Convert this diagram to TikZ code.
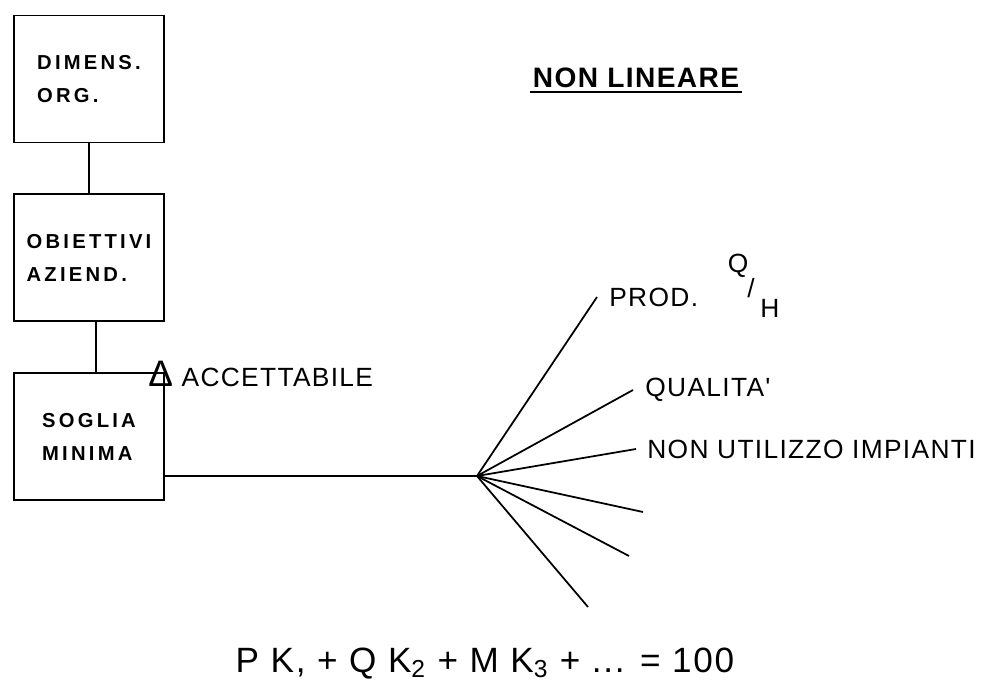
\documentclass[tikz,border=0pt]{standalone}
\usepackage{fontspec}
\setmainfont{Liberation Sans}
\newfontfamily\plotfont[LetterSpace=5]{Liberation Sans}
\newfontfamily\boxfont[LetterSpace=16]{Liberation Sans}
\usetikzlibrary{positioning}

\begin{document}
\begin{tikzpicture}[x=0.02cm,y=-0.02cm,
      box/.style={draw,line width=1.1pt,align=left,minimum width=3cm,minimum height=2.54cm,font=\boxfont\bfseries\fontsize{11.5}{18.8}\selectfont},
      lab/.style={inner sep=0pt,font=\plotfont\fontsize{15}{18}\selectfont},
      ray/.style={line width=1pt}
]
\useasboundingbox (0,0) rectangle (1002,690);
\node[box] (dim) at (89,79) {DIMENS.\\ORG.};
\node[box,below=1cm of dim] (obj) {OBIETTIVI\\AZIEND.};
\node[box,below=1cm of obj] (sog) {SOGLIA\\MINIMA};
\draw[line width=1pt] (dim) -- (obj);
\draw[line width=1pt] ([xshift=0.14cm]obj.south) -- ([xshift=0.14cm]sog.north);
\node[lab,anchor=west] (acc) at (148,374) {{\fontsize{21}{21}\selectfont Δ} ACCETTABILE};
% title
\node[inner sep=0pt,font=\plotfont\bfseries\fontsize{16}{19}\selectfont] (title) at (636,78) {NON LINEARE};
\draw[line width=1.2pt] ([xshift=-0.04cm,yshift=-0.08cm]title.south west) -- ([xshift=0.04cm,yshift=-0.08cm]title.south east);
% fan
\coordinate (hub) at (477,476);
\coordinate (e1) at (597,297);
\coordinate (e2) at (633,390);
\coordinate (e3) at (636,449);
\coordinate (e4) at (643,512);
\coordinate (e5) at (629,556);
\coordinate (e6) at (588,607);
\draw[ray] (sog.east |- hub) -- (hub);
\foreach \e in {e1,e2,e3,e4,e5,e6}
  \draw[ray] (hub) -- (\e);
\node[lab,right=0.24cm of e1] (prod) {PROD.};
\node[lab,right=0.24cm of e2] (qual) {QUALITA'};
\node[lab,right=0.22cm of e3] (nonut) {NON UTILIZZO IMPIANTI};
\node[lab] (q) at (738,266) {Q};
\node[lab] (sl) at (751,288) {/};
\node[lab] (h) at (770,308) {H};
% formula
\node[anchor=base,font=\plotfont\fontsize{20}{24}\selectfont] (sum) at (485,672) {P K, + Q K\textsubscript{2} + M K\textsubscript{3} + ... = 100};
\end{tikzpicture}
\end{document}
